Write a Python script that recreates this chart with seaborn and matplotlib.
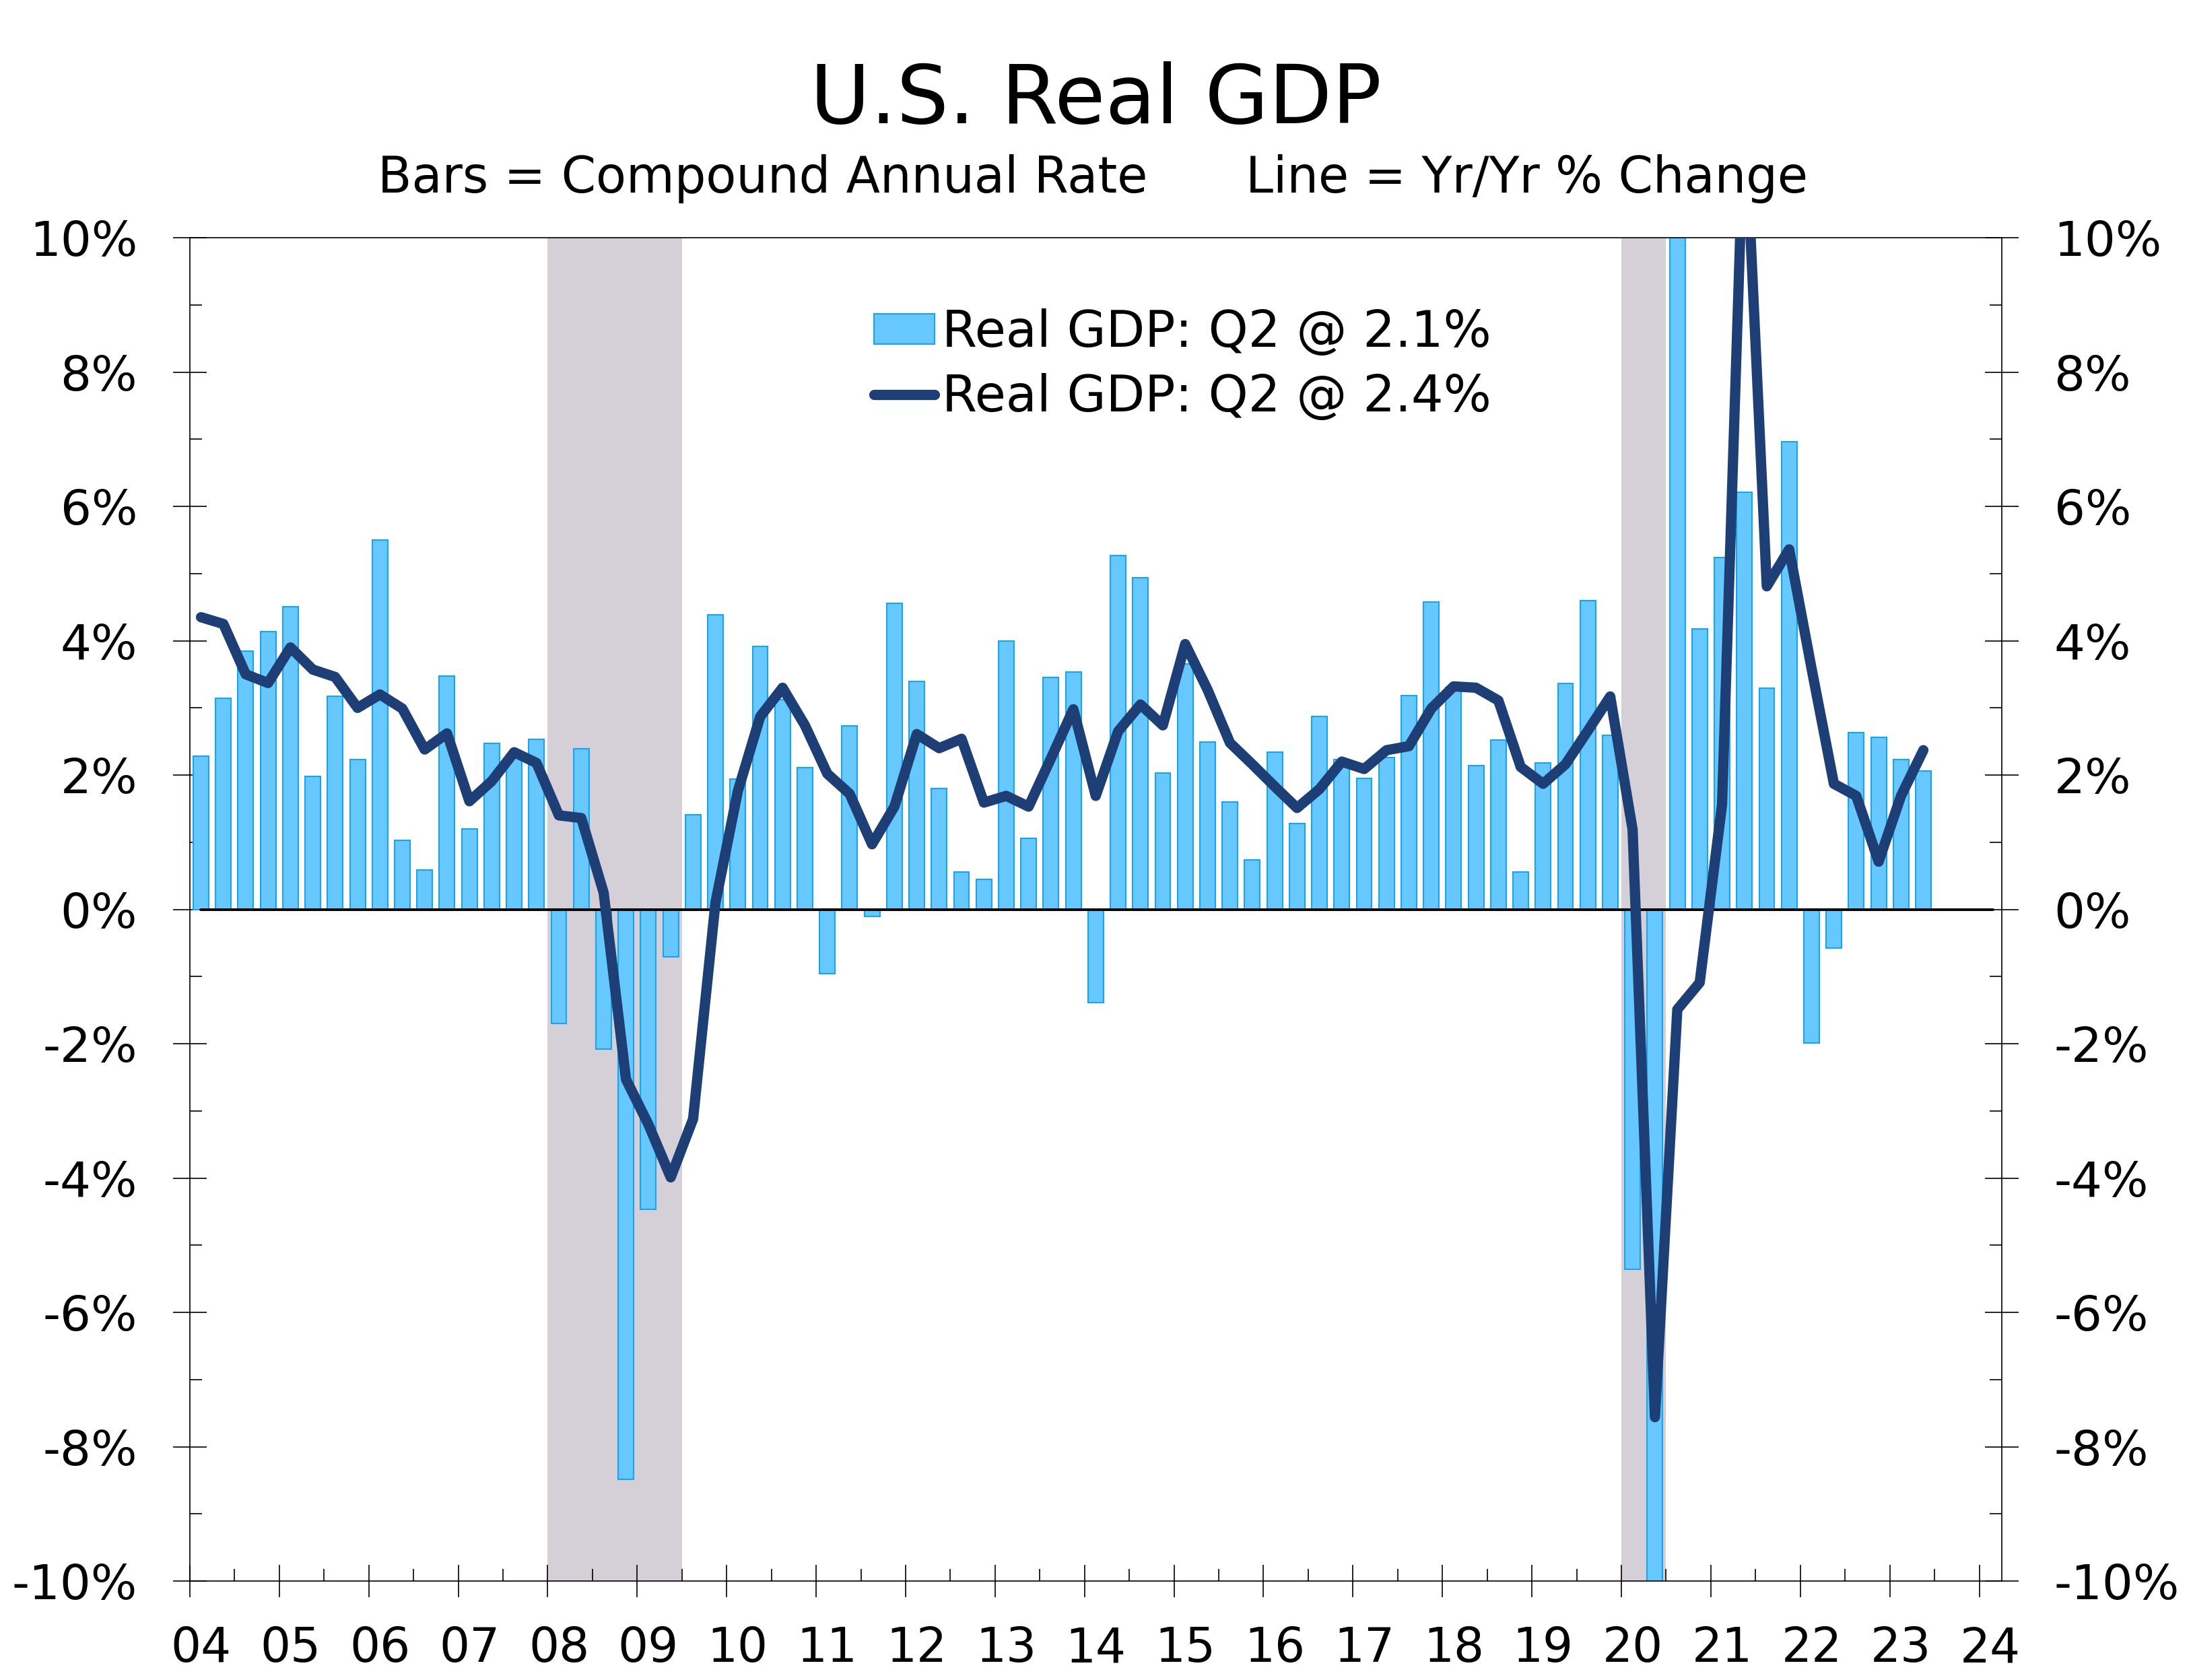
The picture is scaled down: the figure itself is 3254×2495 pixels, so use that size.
import matplotlib
matplotlib.use("Agg")
import matplotlib.pyplot as plt
import matplotlib.transforms as mtransforms
from matplotlib.patches import Patch
from matplotlib.lines import Line2D
import numpy as np
import pandas as pd
import seaborn as sns

# ── Data: quarterly U.S. real GDP, 2004Q1 – 2023Q2 ─────────────────────
quarters = pd.period_range("2004Q1", "2023Q2", freq="Q")

# Bars: compound annual rate (%)
gdp_saar = [
    2.28, 3.14, 3.85, 4.14,    # 2004
    4.51, 1.98, 3.17, 2.23,    # 2005
    5.50, 1.03, 0.59, 3.47,    # 2006
    1.20, 2.47, 2.30, 2.53,    # 2007
    -1.70, 2.39, -2.08, -8.49,  # 2008
    -4.47, -0.71, 1.41, 4.39,  # 2009
    1.94, 3.92, 3.12, 2.11,    # 2010
    -0.96, 2.73, -0.10, 4.56,  # 2011
    3.39, 1.80, 0.56, 0.45,    # 2012
    4.00, 1.06, 3.45, 3.53,    # 2013
    -1.39, 5.27, 4.94, 2.03,   # 2014
    3.65, 2.49, 1.60, 0.74,    # 2015
    2.34, 1.28, 2.87, 2.23,    # 2016
    1.95, 2.26, 3.18, 4.58,    # 2017
    3.30, 2.14, 2.52, 0.56,    # 2018
    2.18, 3.36, 4.60, 2.59,    # 2019
    -5.36, -28.0, 34.8, 4.18,  # 2020
    5.24, 6.21, 3.29, 6.96,    # 2021
    -1.99, -0.58, 2.63, 2.56,  # 2022
    2.23, 2.06,                # 2023
]

# Line: year-over-year % change
gdp_yoy = [
    4.35, 4.25, 3.50, 3.37,
    3.90, 3.57, 3.46, 3.00,
    3.20, 2.99, 2.38, 2.62,
    1.61, 1.91, 2.34, 2.18,
    1.40, 1.36, 0.25, -2.53,
    -3.20, -3.99, -3.12, 0.10,
    1.76, 2.87, 3.30, 2.74,
    2.02, 1.72, 0.97, 1.53,
    2.61, 2.40, 2.54, 1.59,
    1.69, 1.53, 2.25, 2.98,
    1.69, 2.65, 3.05, 2.74,
    3.95, 3.27, 2.48, 2.16,
    1.83, 1.51, 1.79, 2.20,
    2.09, 2.37, 2.43, 2.99,
    3.32, 3.30, 3.11, 2.12,
    1.87, 2.16, 2.66, 3.17,
    1.19, -7.56, -1.49, -1.09,
    1.56, 12.0, 4.81, 5.36,
    3.59, 1.87, 1.69, 0.71,
    1.69, 2.37,
]

recessions = [(2008.0, 2009.5), (2020.0, 2020.5)]
year_ticks = list(range(2004, 2025))
year_labels = [f"{y % 100:02d}" for y in year_ticks]
y_ticks = list(range(-10, 11, 2))

legend_labels = ["Real GDP: Q2 @ 2.1%", "Real GDP: Q2 @ 2.4%"]

BAR_FACE = "#66C8FF"
BAR_EDGE = "#1AA3EE"
LINE_COLOR = "#1E3F75"
SHADE = "#D5D0D8"

# quarter midpoints as decimal years
xq = quarters.year + (quarters.quarter - 1) * 0.25 + 0.125
df = pd.DataFrame({"x": xq, "saar": gdp_saar, "yoy": gdp_yoy})

# ── Figure ─────────────────────────────────────────────────────────────
sns.set_style("ticks")
plt.rcParams["font.family"] = ["DejaVu Sans"]
plt.rcParams["text.color"] = "black"
plt.rcParams["xtick.color"] = "black"
plt.rcParams["ytick.color"] = "black"
plt.rcParams["axes.edgecolor"] = "black"

fig = plt.figure(figsize=(32.55, 24.95), dpi=100)
ax = fig.add_axes([0.0866, 0.0589, 0.8267, 0.7996])

for x0, x1 in recessions:
    ax.axvspan(x0, x1, color=SHADE, lw=0, zorder=0)

sns.barplot(data=df, x="x", y="saar", native_scale=True, width=0.69,
            color=BAR_FACE, edgecolor=BAR_EDGE, linewidth=1.5,
            saturation=1, errorbar=None, ax=ax, zorder=2)

ax.plot([df["x"].iloc[0], 2024.15], [0, 0], color="black", lw=2.8, zorder=3)

sns.lineplot(data=df, x="x", y="yoy", color=LINE_COLOR, linewidth=11,
             solid_capstyle="round", solid_joinstyle="round", ax=ax, zorder=4)

ax.set_xlim(2004, 2024.25)
ax.set_ylim(-10, 10)
ax.set_xlabel("")
ax.set_ylabel("")

# y axis – both sides
ax.set_yticks(y_ticks)
ax.set_yticklabels([f"{v}%" for v in y_ticks])
ax.set_yticks(list(range(-9, 10, 2)), minor=True)
ax.tick_params(axis="y", which="major", direction="inout", length=36, width=1.2,
               left=True, right=True, labelleft=True, labelright=True,
               labelsize=52, pad=38, colors="black")
ax.tick_params(axis="y", which="minor", direction="in", length=13, width=1.2,
               left=True, right=True, colors="black")

# x axis – year ticks, labels shifted half a quarter right
ax.set_xticks(year_ticks)
ax.set_xticklabels(year_labels)
ax.set_xticks([y + 0.5 for y in year_ticks[:-1]], minor=True)
ax.tick_params(axis="x", which="major", direction="inout", length=35, width=1.2,
               labelsize=51, pad=30, colors="black")
ax.tick_params(axis="x", which="minor", direction="in", length=13, width=1.2,
               colors="black")
shift = mtransforms.ScaledTranslation(0.166, 0, fig.dpi_scale_trans)
for lbl in ax.get_xticklabels():
    lbl.set_transform(lbl.get_transform() + shift)

for sp in ax.spines.values():
    sp.set_visible(True)
    sp.set_color("black")
    sp.set_linewidth(1.2)

# ── Legend ─────────────────────────────────────────────────────────────
handles = [
    Patch(facecolor=BAR_FACE, edgecolor=BAR_EDGE, linewidth=1.5),
    Line2D([0], [0], color=LINE_COLOR, lw=11, solid_capstyle="round"),
]
fig.legend(handles, legend_labels, loc="upper left",
           bbox_to_anchor=(1298 / 3255, 1 - 458 / 2495),
           frameon=False, fontsize=54, handlelength=1.2, handleheight=0.55,
           handletextpad=0.15, labelspacing=0.3, borderpad=0, borderaxespad=0)

# ── Titles ─────────────────────────────────────────────────────────────
fig.text(0.5, 0.940, "U.S. Real GDP", ha="center", va="center", fontsize=88)
fig.text(0.3480, 0.8934, "Bars = Compound Annual Rate", ha="center",
         va="center", fontsize=53)
fig.text(0.6965, 0.8934, "Line = Yr/Yr % Change", ha="center",
         va="center", fontsize=53)

fig.savefig("out.png", dpi=100)
plt.close(fig)
